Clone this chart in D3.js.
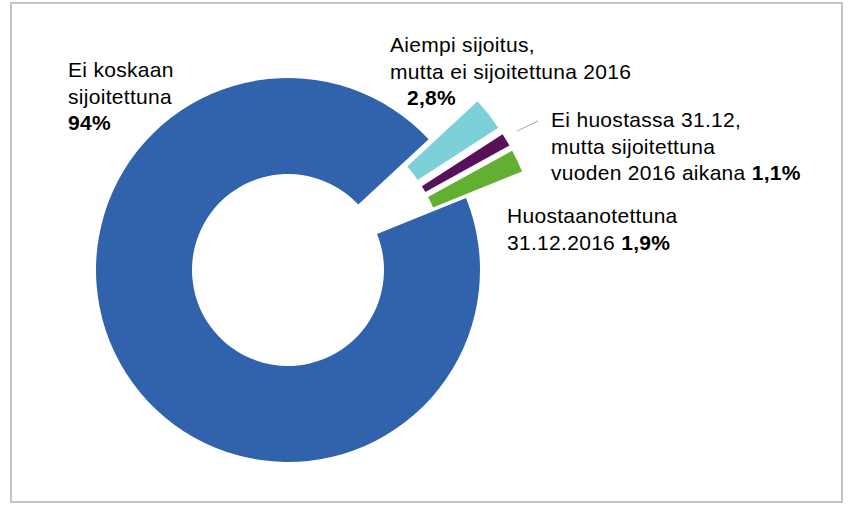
<!DOCTYPE html>
<html>
<head>
<meta charset="utf-8">
<script src="https://cdnjs.cloudflare.com/ajax/libs/d3/7.8.5/d3.min.js"></script>
<style>
  html, body { margin: 0; padding: 0; background: #fff; }
  svg { display: block; }
  text { font-family: "Liberation Sans", Arial, sans-serif; font-size: 21px; letter-spacing: 0.3px; fill: #000; }
</style>
</head>
<body>
<script>
// ---- data ----
const categories = [
  "Ei koskaan sijoitettuna",
  "Aiempi sijoitus, mutta ei sijoitettuna 2016",
  "Ei huostassa 31.12, mutta sijoitettuna vuoden 2016 aikana",
  "Huostaanotettuna 31.12.2016"
];
const values = [94, 2.8, 1.1, 1.9];
const colors = ["#3063ac", "#7dd0d7", "#581159", "#62af31"];
const exploded = [false, true, true, true];
const labelLines = [
  ["Ei koskaan", "sijoitettuna", ""],
  ["Aiempi sijoitus,", "mutta ei sijoitettuna 2016", ""],
  ["Ei huostassa 31.12,", "mutta sijoitettuna", "vuoden 2016 aikana "],
  ["Huostaanotettuna", "31.12.2016 "]
];

// ---- layout ----
const W = 850, H = 506;
const cx = 288, cy = 270, R = 192, r = 96, explode = 62;
const startDeg = 68;
// label anchor (x of left edge, baseline of first line), line gap
const labelPos = [[68, 77], [390, 52], [551, 127], [507, 223]];
const valueIndent = [0, 17, null, null];
const lineGap = 26.5;

const fmt = v => (v % 1 === 0 ? String(v) : v.toFixed(1).replace(".", ",")) + "%";

const svg = d3.select("body").append("svg").attr("width", W).attr("height", H);

svg.append("rect")
  .attr("x", 11).attr("y", 3).attr("width", 831).attr("height", 499)
  .attr("fill", "none").attr("stroke", "#c4c4c4").attr("stroke-width", 2);

const start = startDeg * Math.PI / 180;
const pie = d3.pie().sort(null).value(d => d).startAngle(start).endAngle(start + 2 * Math.PI);
const arcs = pie(values);
const arc = d3.arc().innerRadius(r).outerRadius(R);

const g = svg.append("g").attr("transform", `translate(${cx},${cy})`);
g.selectAll("path").data(arcs).enter().append("path")
  .attr("d", arc)
  .attr("fill", (d, i) => colors[i])
  .attr("transform", (d, i) => {
    if (!exploded[i]) return null;
    const a = (d.startAngle + d.endAngle) / 2;
    return `translate(${explode * Math.sin(a)},${-explode * Math.cos(a)})`;
  });

// leader line for the small purple slice
svg.append("line")
  .attr("x1", 517).attr("y1", 131).attr("x2", 538).attr("y2", 121)
  .attr("stroke", "#a6a6a6").attr("stroke-width", 1);

// labels
labelLines.forEach((lines, i) => {
  const [x, y] = labelPos[i];
  const t = svg.append("text").attr("x", x).attr("y", y);
  lines.forEach((ln, j) => {
    const last = j === lines.length - 1;
    const ts = t.append("tspan").attr("x", x).attr("dy", j === 0 ? 0 : lineGap);
    if (!last) { ts.text(ln); return; }
    if (ln === "") {
      ts.attr("x", x + (valueIndent[i] || 0)).attr("font-weight", "bold").text(fmt(values[i]));
    } else {
      ts.text(ln);
      t.append("tspan").attr("font-weight", "bold").text(fmt(values[i]));
    }
  });
});
</script>
</body>
</html>
